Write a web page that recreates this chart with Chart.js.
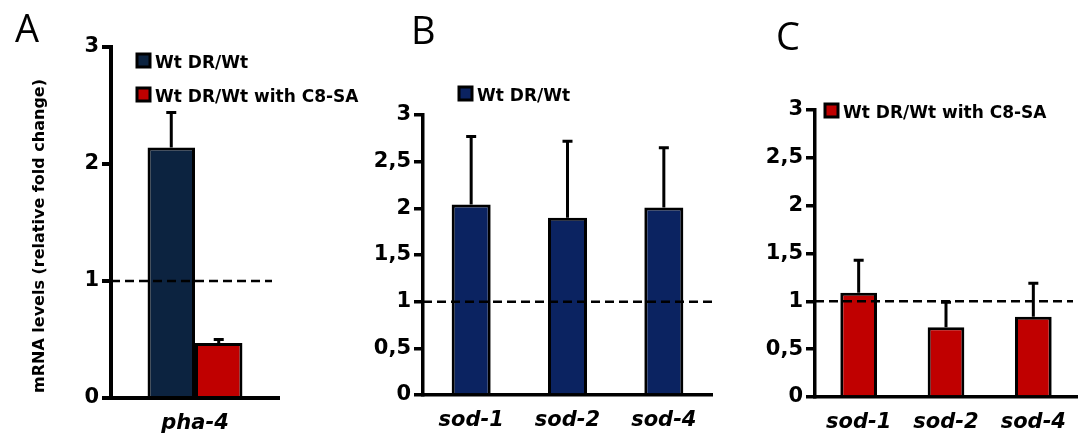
<!DOCTYPE html>
<html>
<head>
<meta charset="utf-8">
<script src="https://cdn.jsdelivr.net/npm/chart.js@4.4.1/dist/chart.umd.min.js"></script>
<style>
  html, body { margin: 0; padding: 0; background: #fff; }
  body { width: 1086px; height: 439px; position: relative; overflow: hidden; }
  canvas { position: absolute; top: 0; }
</style>
</head>
<body>
<canvas id="panel-a" width="370" height="439" style="left:0"></canvas>
<canvas id="panel-b" width="360" height="439" style="left:370px"></canvas>
<canvas id="panel-c" width="356" height="439" style="left:730px"></canvas>
<script>
// Panel A: pha-4
const phaLabels = ['pha-4'];
const phaDr = [2.14];
const phaDrErr = [0.30];
const phaC8 = [0.47];
const phaC8Err = [0.03];
const ticksA = [0, 1, 2, 3];

// Panels B and C: sod genes
const sodLabels = ['sod-1', 'sod-2', 'sod-4'];
const sodDr = [2.04, 1.90, 2.01];
const sodDrErr = [0.73, 0.82, 0.64];
const sodC8 = [1.09, 0.73, 0.84];
const sodC8Err = [0.34, 0.26, 0.35];
const ticksBC = [0, 0.5, 1, 1.5, 2, 2.5, 3];

const NAVY_A = '#0c2340';
const NAVY_B = '#0b2361';
const RED = '#c00000';
const FONT = '"DejaVu Sans", sans-serif';
const LETTER_FONT = '"Open Sans", sans-serif';

// draws error bars, reference line, legend, panel letter and y title
const extrasPlugin = {
  id: 'extras',
  afterDatasetsDraw(chart, args, opts) {
    const ctx = chart.ctx;
    const y = chart.scales.y;
    const area = chart.chartArea;
    ctx.save();

    // error bars (upper only)
    ctx.strokeStyle = '#000';
    ctx.lineWidth = 3;
    chart.data.datasets.forEach((ds, di) => {
      const meta = chart.getDatasetMeta(di);
      meta.data.forEach((bar, i) => {
        const top = y.getPixelForValue(ds.data[i] + ds.errors[i]);
        ctx.beginPath();
        ctx.moveTo(bar.x, bar.y);
        ctx.lineTo(bar.x, top);
        ctx.moveTo(bar.x - 5, top);
        ctx.lineTo(bar.x + 5, top);
        ctx.stroke();
      });
    });

    // dashed line at fold change 1
    const ly = y.getPixelForValue(1);
    ctx.lineWidth = 2.5;
    ctx.setLineDash([9, 5]);
    ctx.beginPath();
    ctx.moveTo(area.left, ly);
    ctx.lineTo(area.right + opts.lineExtend, ly);
    ctx.stroke();
    ctx.setLineDash([]);

    // legend
    ctx.font = 'bold ' + opts.legendSize + 'px ' + FONT;
    ctx.textBaseline = 'alphabetic';
    opts.legend.forEach(item => {
      ctx.fillStyle = item.color;
      ctx.fillRect(item.x, item.y, 13, 13);
      ctx.lineWidth = 3;
      ctx.strokeStyle = '#000';
      ctx.strokeRect(item.x, item.y, 13, 13);
      ctx.fillStyle = '#000';
      ctx.fillText(item.label, item.x + 18, item.y + 14);
    });

    // panel letter
    ctx.font = '38px ' + LETTER_FONT;
    ctx.fillStyle = '#000';
    ctx.fillText(opts.letter.text, opts.letter.x, opts.letter.y);

    // y axis title
    if (opts.yTitle) {
      ctx.translate(opts.yTitle.x, opts.yTitle.y);
      ctx.rotate(-Math.PI / 2);
      ctx.font = 'bold 16px ' + FONT;
      ctx.textAlign = 'center';
      ctx.textBaseline = 'middle';
      ctx.fillText(opts.yTitle.text, 0, 0);
    }
    ctx.restore();
  }
};

function commaTick(value) {
  return String(value).replace('.', ',');
}

function makeChart(id, cfg) {
  return new Chart(document.getElementById(id), {
    type: 'bar',
    data: { labels: cfg.labels, datasets: cfg.datasets },
    options: {
      responsive: false,
      animation: false,
      devicePixelRatio: 1,
      layout: { padding: cfg.padding },
      datasets: { bar: { categoryPercentage: cfg.catPct, barPercentage: cfg.barPct } },
      plugins: {
        legend: { display: false },
        tooltip: { enabled: false },
        extras: cfg.extras
      },
      scales: {
        x: {
          grid: { display: false },
          border: { display: true, color: '#000', width: cfg.axisWidth },
          ticks: { color: '#000', padding: 5, font: { family: FONT, size: 21, weight: 'bold', style: 'italic' } },
          afterFit: s => { s.height = cfg.xHeight; }
        },
        y: {
          min: 0,
          max: 3,
          afterBuildTicks: s => { s.ticks = cfg.ticks.map(v => ({ value: v })); },
          ticks: { color: '#000', padding: 3, callback: commaTick, font: { family: FONT, size: 21, weight: 'bold' } },
          grid: { drawOnChartArea: false, drawTicks: true, tickLength: 9, color: '#000', lineWidth: cfg.axisWidth },
          border: { display: true, color: '#000', width: cfg.axisWidth },
          afterFit: s => { s.width = cfg.yWidth; }
        }
      }
    },
    plugins: [extrasPlugin]
  });
}

makeChart('panel-a', {
  labels: phaLabels,
  datasets: [
    { data: phaDr, errors: phaDrErr, backgroundColor: NAVY_A, borderColor: '#000', borderWidth: 3 },
    { data: phaC8, errors: phaC8Err, backgroundColor: RED, borderColor: '#000', borderWidth: 3 }
  ],
  padding: { left: 20, right: 91, top: 47, bottom: 0 },
  yWidth: 91,
  xHeight: 41,
  catPct: 0.565,
  barPct: 1,
  axisWidth: 4,
  ticks: ticksA,
  extras: {
    lineExtend: -7,
    legendSize: 17,
    legend: [
      { label: 'Wt DR/Wt', color: NAVY_A, x: 137, y: 54 },
      { label: 'Wt DR/Wt with C8-SA', color: RED, x: 137, y: 88 }
    ],
    letter: { text: 'A', x: 15, y: 42 },
    yTitle: { text: 'mRNA levels (relative fold change)', x: 40, y: 236 }
  }
});

makeChart('panel-b', {
  labels: sodLabels,
  datasets: [
    { data: sodDr, errors: sodDrErr, backgroundColor: NAVY_B, borderColor: '#000', borderWidth: 3 }
  ],
  padding: { left: 0, right: 18, top: 115, bottom: 4 },
  yWidth: 53,
  xHeight: 40,
  catPct: 1,
  barPct: 0.405,
  axisWidth: 3.5,
  ticks: ticksBC,
  extras: {
    lineExtend: 5,
    legendSize: 17,
    legend: [
      { label: 'Wt DR/Wt', color: NAVY_B, x: 89, y: 87 }
    ],
    letter: { text: 'B', x: 41, y: 44 }
  }
});

makeChart('panel-c', {
  labels: sodLabels,
  datasets: [
    { data: sodC8, errors: sodC8Err, backgroundColor: RED, borderColor: '#000', borderWidth: 3 }
  ],
  padding: { left: 0, right: 9, top: 110, bottom: 2 },
  yWidth: 85,
  xHeight: 40,
  catPct: 1,
  barPct: 0.42,
  axisWidth: 3.5,
  ticks: ticksBC,
  extras: {
    lineExtend: -4,
    legendSize: 17,
    legend: [
      { label: 'Wt DR/Wt with C8-SA', color: RED, x: 95, y: 104 }
    ],
    letter: { text: 'C', x: 46, y: 50 }
  }
});
</script>
</body>
</html>
